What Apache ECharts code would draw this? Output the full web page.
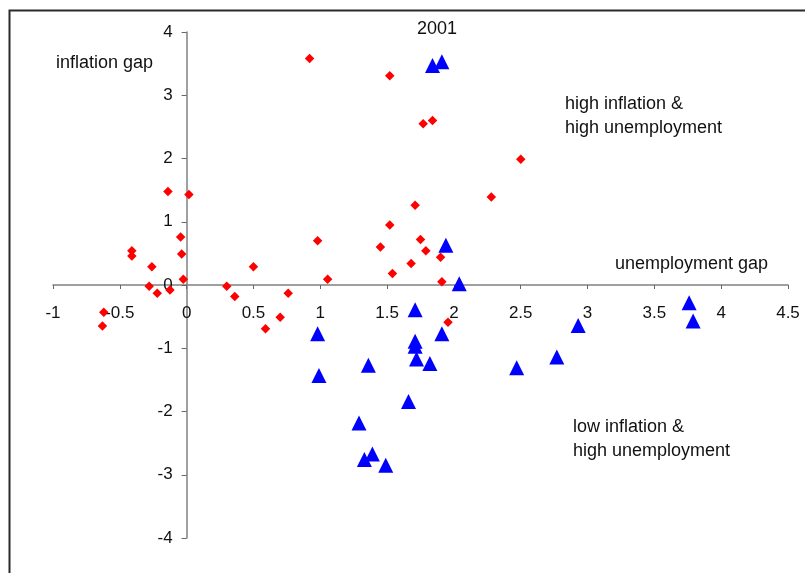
<!DOCTYPE html>
<html>
<head>
<meta charset="utf-8">
<script src="https://cdn.jsdelivr.net/npm/echarts@6/dist/echarts.min.js"></script>
<style>
  html, body { margin: 0; padding: 0; background: #fff; }
  #chart { width: 805px; height: 573px; }
</style>
</head>
<body>
<div id="chart"></div>
<script>
// Unemployment gap (x) vs inflation gap (y)
const otherYears = [
  [-0.14, 1.48], [0.017, 1.43], [-0.045, 0.76], [-0.037, 0.49],
  [-0.41, 0.54], [-0.41, 0.46], [-0.26, 0.29], [-0.025, 0.09],
  [-0.28, -0.02], [-0.22, -0.13], [-0.125, -0.08], [-0.62, -0.43],
  [-0.63, -0.65], [0.30, -0.02], [0.36, -0.18], [0.50, 0.29],
  [0.59, -0.69], [0.70, -0.51], [0.76, -0.13], [0.92, 3.58],
  [1.52, 3.31], [1.77, 2.55], [1.84, 2.60], [2.50, 1.99],
  [2.28, 1.39], [1.71, 1.26], [1.52, 0.95], [0.98, 0.70],
  [1.75, 0.72], [1.45, 0.60], [1.79, 0.54], [1.90, 0.44],
  [1.68, 0.34], [1.54, 0.18], [1.055, 0.09], [1.91, 0.05],
  [1.956, -0.59]
];
const year2001 = [
  [1.84, 3.47], [1.91, 3.53], [1.94, 0.63], [2.04, 0.02],
  [1.71, -0.39], [0.98, -0.77], [1.91, -0.77], [1.71, -0.89],
  [1.71, -0.97], [1.72, -1.17], [1.82, -1.24], [1.36, -1.27],
  [2.47, -1.31], [0.99, -1.43], [2.93, -0.64], [2.77, -1.14],
  [3.76, -0.28], [3.79, -0.57], [1.66, -1.84], [1.29, -2.18],
  [1.33, -2.76], [1.39, -2.67], [1.49, -2.85]
];
const xRange = { min: -1, max: 4.5, step: 0.5 };
const yRange = { min: -4, max: 4, step: 1 };
const titleText = '2001';
const yAxisTitle = 'inflation gap';
const xAxisTitle = 'unemployment gap';
const upperNote = 'high inflation &\nhigh unemployment';
const lowerNote = 'low inflation &\nhigh unemployment';

const FONT = "'Liberation Sans', Arial, sans-serif";
const W = 805, H = 573;
const GRID = { left: 53, right: 17, top: 32, bottom: 35 };

// Axes cross at the origin: shift each axis (line, ticks and labels together)
// from the grid edge to the other axis's zero.
const plotW = W - GRID.left - GRID.right;
const plotH = H - GRID.top - GRID.bottom;
const yAxisShift = -plotW * (0 - xRange.min) / (xRange.max - xRange.min);
const xAxisShift = -plotH * (0 - yRange.min) / (yRange.max - yRange.min);

const chart = echarts.init(document.getElementById('chart'), null, { renderer: 'canvas' });

const axisLine = { show: true, onZero: false, lineStyle: { color: '#808080', width: 1.5 } };
const txt = (s, x, y) => ({
  type: 'text', left: x, top: y, silent: true,
  style: { text: s, fill: '#111', font: '18px ' + FONT, lineHeight: 24 }
});

chart.setOption({
  animation: false,
  backgroundColor: '#fff',
  grid: Object.assign({ containLabel: false }, GRID),
  xAxis: {
    type: 'value', position: 'bottom', offset: xAxisShift,
    min: xRange.min, max: xRange.max, interval: xRange.step,
    axisLine: axisLine,
    axisTick: { show: true, inside: false, length: 4, lineStyle: { color: '#666', width: 1 } },
    axisLabel: { show: true, margin: 20, color: '#111', fontSize: 17, fontFamily: FONT,
      showMinLabel: true, showMaxLabel: true },
    splitLine: { show: false }
  },
  yAxis: {
    type: 'value', position: 'left', offset: yAxisShift,
    min: yRange.min, max: yRange.max, interval: yRange.step,
    axisLine: axisLine,
    axisTick: { show: true, inside: false, length: 5, lineStyle: { color: '#666', width: 1 } },
    axisLabel: { show: true, margin: 14, color: '#111', fontSize: 17, fontFamily: FONT,
      showMinLabel: true, showMaxLabel: true },
    splitLine: { show: false }
  },
  series: [
    {
      name: 'other years', type: 'scatter', data: otherYears,
      symbol: 'diamond', symbolSize: 9.5,
      itemStyle: { color: '#ff0000', opacity: 1 }, z: 3
    },
    {
      name: '2001', type: 'scatter', data: year2001,
      symbol: 'triangle', symbolSize: [15, 15],
      itemStyle: { color: '#0000ff', opacity: 1 }, z: 4
    }
  ],
  graphic: [
    { type: 'rect', silent: true, z: 100,
      shape: { x: 9.5, y: 10.5, width: 900, height: 700 },
      style: { fill: 'none', stroke: '#2a2a2a', lineWidth: 2 } },
    txt(titleText, 417, 17),
    txt(yAxisTitle, 56, 51),
    txt(xAxisTitle, 615, 252),
    txt(upperNote, 565, 92),
    txt(lowerNote, 573, 415)
  ]
});
</script>
</body>
</html>
